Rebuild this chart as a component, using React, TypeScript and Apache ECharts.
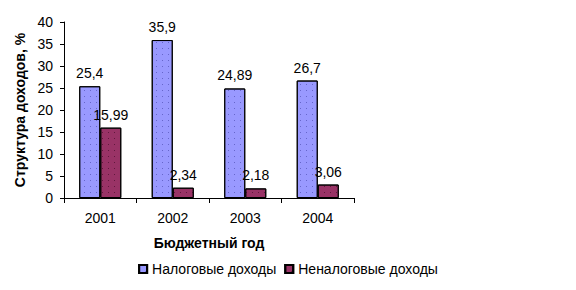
import React, { useEffect, useRef } from "react";
import * as echarts from "echarts";

const categories = ["2001", "2002", "2003", "2004"];
const taxIncome = [25.4, 35.9, 24.89, 26.7];
const nonTaxIncome = [15.99, 2.34, 2.18, 3.06];
const seriesNames = ["Налоговые доходы", "Неналоговые доходы"];
const yTicks = { min: 0, max: 40, interval: 5 };

const FONT = "'Liberation Sans', Arial, sans-serif";
const FS = 14;

const fmt = (v: number) => String(v).replace(".", ",");

export default function App() {
  const ref = useRef<HTMLDivElement>(null);
  useEffect(() => {
    if (!ref.current) return;
    const chart = echarts.init(ref.current, undefined, { renderer: "svg" });
    const label = {
      show: true,
      position: "top" as const,
      distance: 6,
      color: "#000",
      fontFamily: FONT,
      fontSize: FS,
      formatter: (p: any) => fmt(p.value),
    };
    chart.setOption({
      animation: false,
      backgroundColor: "#fff",
      textStyle: { fontFamily: FONT },
      grid: { left: 64, right: 222, top: 22, bottom: 92, containLabel: false },
      legend: {
        data: seriesNames,
        bottom: 9,
        left: "center",
        itemWidth: 8,
        itemHeight: 8,
        itemGap: 8,
        icon: "rect",
        textStyle: { fontFamily: FONT, fontSize: FS, color: "#000" },
      },
      xAxis: {
        type: "category",
        data: categories,
        name: "Бюджетный год",
        nameLocation: "middle",
        nameGap: 38,
        nameTextStyle: { fontFamily: FONT, fontSize: FS, fontWeight: "bold", color: "#000" },
        axisLine: { lineStyle: { color: "#000", width: 1 } },
        axisTick: { show: true, length: 5, lineStyle: { color: "#000" } },
        axisLabel: { color: "#000", fontFamily: FONT, fontSize: FS, margin: 13 },
        splitLine: { show: false },
      },
      yAxis: {
        type: "value",
        min: yTicks.min,
        max: yTicks.max,
        interval: yTicks.interval,
        name: "Структура доходов, %",
        nameLocation: "middle",
        nameGap: 31,
        nameRotate: 90,
        nameTextStyle: { fontFamily: FONT, fontSize: FS, fontWeight: "bold", color: "#000" },
        axisLine: { show: true, lineStyle: { color: "#000", width: 1 } },
        axisTick: { show: true, length: 4, lineStyle: { color: "#000" } },
        axisLabel: { color: "#000", fontFamily: FONT, fontSize: FS, margin: 11 },
        splitLine: { show: false },
      },
      series: [
        {
          name: seriesNames[0],
          type: "bar",
          data: taxIncome,
          barGap: "0%",
          barCategoryGap: "42%",
          itemStyle: {
            color: "#9999FF",
            borderColor: "#000",
            borderWidth: 1,
            decal: {
              symbol: "rect",
              symbolSize: 1,
              dashArrayX: [1, 5],
              dashArrayY: [1, 5],
              color: "rgba(60,60,160,0.55)",
            },
          },
          label,
        },
        {
          name: seriesNames[1],
          type: "bar",
          data: nonTaxIncome,
          itemStyle: {
            color: "#993366",
            borderColor: "#000",
            borderWidth: 1,
            decal: {
              symbol: "rect",
              symbolSize: 1,
              dashArrayX: [1, 5],
              dashArrayY: [1, 5],
              color: "rgba(40,0,20,0.5)",
            },
          },
          label,
        },
      ],
    });
    return () => chart.dispose();
  }, []);
  return <div ref={ref} style={{ width: 576, height: 290, margin: -8 }} />;
}
